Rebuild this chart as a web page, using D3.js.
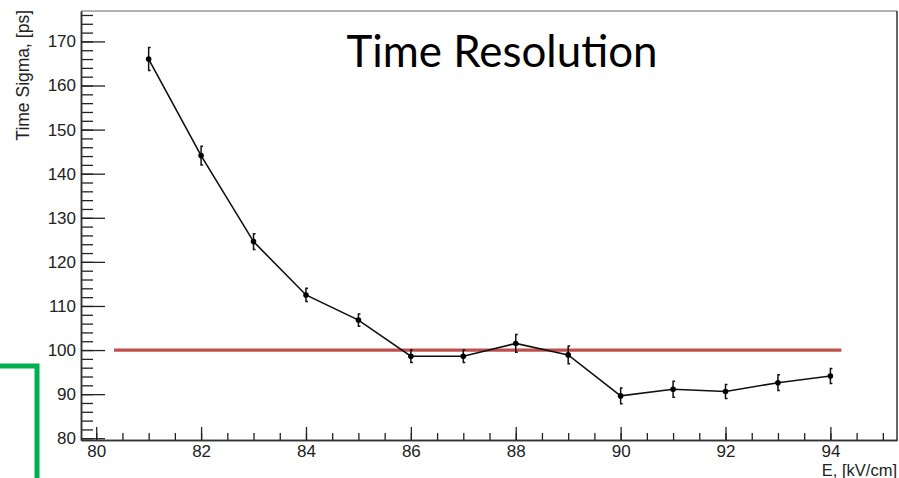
<!DOCTYPE html>
<html>
<head>
<meta charset="utf-8">
<script src="https://cdn.jsdelivr.net/npm/d3@7"></script>
<style>
  body { margin: 0; background: #fff; }
  svg { display: block; }
</style>
</head>
<body>
<div id="chart"></div>
<script>
// data
var fields = [81, 82, 83, 84, 85, 86, 87, 88, 89, 90, 91, 92, 93, 94]
var sigmas = [166.0, 144.1, 124.6, 112.5, 106.8, 98.6, 98.6, 101.5, 98.9, 89.6, 91.1, 90.6, 92.6, 94.1]
var errors = [2.6, 2.1, 1.8, 1.5, 1.4, 1.4, 1.4, 2.0, 2.0, 1.8, 1.8, 1.6, 1.8, 1.7]
var xTicks = [80, 82, 84, 86, 88, 90, 92, 94]
var yTicks = [80, 90, 100, 110, 120, 130, 140, 150, 160, 170]
var limit = 100
var limitRange = [80.34, 94.21]

var W = 899, H = 478
var margin = {top: 11, right: 2, bottom: 38, left: 81}
var width = W - margin.left - margin.right
var height = H - margin.top - margin.bottom

var root = d3.select("#chart").append("svg")
  .attr("width", W).attr("height", H)

var svg = root.append("g")
  .attr("transform", "translate(" + margin.left + "," + margin.top + ")")

var x = d3.scaleLinear().domain([79.71, 95.27]).range([0, width])
var y = d3.scaleLinear().domain([79.6, 176.9]).range([height, 0])

// frame
svg.append("line").attr("x1", 0).attr("x2", width).attr("y1", 0).attr("y2", 0)
  .attr("stroke", "#999").attr("stroke-width", 1.5)
svg.append("line").attr("x1", width).attr("x2", width).attr("y1", 0).attr("y2", height)
  .attr("stroke", "#333").attr("stroke-width", 1.5)

var font = "'Liberation Sans', Arial, sans-serif"

// minor ticks
svg.append("g").attr("transform", "translate(0," + height + ")")
  .call(d3.axisBottom(x).tickValues(d3.range(80, 95.3, 0.5)).tickSizeInner(-7).tickSizeOuter(0).tickFormat(""))
svg.append("g")
  .call(d3.axisLeft(y).tickValues(d3.range(80, 177, 2)).tickSizeInner(-12).tickSizeOuter(0).tickFormat(""))

// major ticks + labels
var xAxis = svg.append("g").attr("transform", "translate(0," + height + ")")
  .call(d3.axisBottom(x).tickValues(xTicks).tickSizeInner(-13).tickSizeOuter(0).tickPadding(5))
var yAxis = svg.append("g")
  .call(d3.axisLeft(y).tickValues(yTicks).tickSizeInner(-24).tickSizeOuter(0).tickPadding(5))

svg.selectAll(".domain").attr("stroke", "#333").attr("stroke-width", 1.5)
svg.selectAll(".tick line").attr("stroke", "#222").attr("stroke-width", 1.3)
svg.selectAll(".tick text").attr("font-family", font).attr("font-size", 17).attr("fill", "#222")
xAxis.selectAll(".tick text").attr("dy", "0.71em")

// axis titles
root.append("text")
  .attr("transform", "translate(29," + 10 + ") rotate(-90)")
  .attr("text-anchor", "end")
  .attr("font-family", font).attr("font-size", 17.5).attr("fill", "#222")
  .text("Time Sigma, [ps]")

root.append("text")
  .attr("x", 897).attr("y", 476)
  .attr("text-anchor", "end")
  .attr("font-family", font).attr("font-size", 16.5).attr("fill", "#222")
  .text("E, [kV/cm]")

// red reference line
svg.append("line")
  .attr("x1", x(limitRange[0])).attr("x2", x(limitRange[1]))
  .attr("y1", y(limit)).attr("y2", y(limit))
  .attr("stroke", "#c0504d").attr("stroke-width", 3.2)

var data = fields.map(function(f, i) { return {x: f, y: sigmas[i], e: errors[i]} })

// connecting line
var line = d3.line().x(d => x(d.x)).y(d => y(d.y))
svg.append("path").datum(data)
  .attr("fill", "none").attr("stroke", "#111").attr("stroke-width", 1.6)
  .attr("d", line)

// error bars
var eb = svg.append("g").attr("stroke", "#111").attr("stroke-width", 1.5).attr("fill", "none")
eb.selectAll("path").data(data).enter().append("path")
  .attr("d", function(d) {
    var cx = x(d.x), t = y(d.y + d.e), b = y(d.y - d.e)
    return "M" + (cx + 2) + "," + t + "H" + cx + "V" + b + "H" + (cx + 2)
  })

svg.selectAll("circle").data(data).enter().append("circle")
  .attr("cx", d => x(d.x)).attr("cy", d => y(d.y))
  .attr("r", 2.8).attr("fill", "#000")

// title, sized to the width it takes in the picture
var title = root.append("text")
  .attr("x", 502).attr("y", 67)
  .attr("text-anchor", "middle")
  .attr("font-family", "Lato, 'Open Sans', sans-serif").attr("font-size", 100)
  .attr("fill", "#000")
  .text("Time Resolution")
var tw = title.node().getComputedTextLength()
title.attr("font-size", 100 * 311 / tw)

// green bracket in the lower-left corner
root.append("path")
  .attr("d", "M0,366H37V478")
  .attr("fill", "none").attr("stroke", "#00b050").attr("stroke-width", 5)
</script>
</body>
</html>
